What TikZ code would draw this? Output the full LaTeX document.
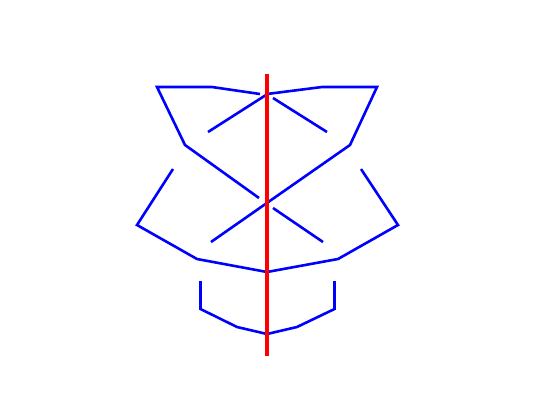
\documentclass[tikz,border=0pt]{standalone}
\begin{document}
\begin{tikzpicture}[x=1pt,y=-1pt,
  blueline/.style={draw=blue,line width=2.6pt,line join=miter},
  redline/.style={draw=red,line width=3.3pt}]
\useasboundingbox (0,0) rectangle (550,400);
% top left
\draw[blueline] (260,94) -- (212,87) -- (157,87) -- (185,145) -- (259,198);
% top right
\draw[blueline] (267,94) -- (322,87) -- (377,87) -- (350,145) -- (211,242);
% upper diagonals
\draw[blueline] (208,132) -- (266,95);
\draw[blueline] (273,98) -- (327,132);
% lower right diagonal
\draw[blueline] (273,208) -- (323,242);
% middle band
\draw[blueline] (173,169) -- (137,225) -- (197,259) -- (267,272) -- (338,259) -- (398,225) -- (361,169);
% bottom
\draw[blueline] (200.5,281) -- (200.5,309) -- (237,327) -- (267,334) -- (297,327) -- (334.5,309) -- (334.5,281);
% axis
\draw[redline] (267,74) -- (267,356);
\end{tikzpicture}
\end{document}
